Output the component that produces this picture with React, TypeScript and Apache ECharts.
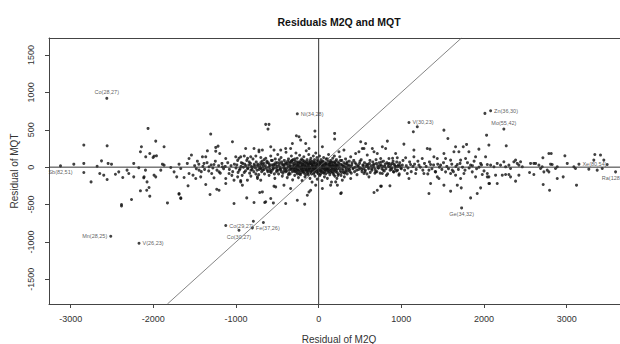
import React, { useEffect, useRef } from "react";
import * as echarts from "echarts";

const X_MIN = -3262;
const X_MAX = 3645;
const Y_MIN = -1830;
const Y_MAX = 1727;
const xTicks = [-3000, -2000, -1000, 0, 1000, 2000, 3000];
const yTicks = [-1500, -1000, -500, 0, 500, 1000, 1500];

const farLeft: number[][] = [
  [-2064,518],[-2841,295],[-2559,285],[-2156,205],[-2144,272],[-2962,40],[-2841,50],[-2680,13],[-2627,84],[-2547,50],[-2506,40],[-2237,50],[-2176,-9],[-2095,-40],[-2841,-71],[-2648,-84],[-2600,-107],[-2559,-165],[-2753,-197],[-2458,-94],[-2418,-63],[-2370,-138],[-2318,-40],[-2297,-84],[-2237,-130],[-2116,-143],[-2076,-197],[-2156,-317],[-2264,-432],[-2385,-500],[-2385,-520],[-2080,-308],[-1971,348],[-1870,272],[-2092,138],[-1991,147],[-2052,-272],[-2043,-388],[-1829,-478],[-1689,-352],[-1668,-419],[-1580,-250],[-2043,183],[-2003,130],[-1962,151],[-1890,40],[-1870,27],[-1789,-4],[-1749,-63],[-1717,-130],[-1689,40],[-1668,-18],[-1628,-138],[-2112,-130],[-1991,-107],[-1971,-130],[-1910,-40],[-1689,-362],[-1668,-411]
];

const leftBand: number[][] = [
  [-1589,50],[-1568,116],[-1539,161],[-1520,-107],[-1487,-152],[-1467,80],[-1447,-40],[-1406,138],[-1366,138],[-1346,218],[-1387,50],[-1306,442],[-1326,4],[-1294,-84],[-1266,36],[-1245,264],[-1217,281],[-1245,214],[-1197,183],[-1366,-232],[-1314,-366],[-1233,-295],[-1205,-308],[-1568,-84],[-1427,-130],[-1266,-143],[-1205,-63],[-1164,4],[-1124,116],[-1043,339],[-1003,138],[-943,138],[-883,250],[-822,138],[-782,250],[-722,228],[-1124,-152],[-1084,-84],[-1024,-174],[-943,-197],[-862,-174],[-923,-241],[-1024,-486],[-870,-411],[-782,-473],[-713,-339],[-653,-473],[-580,-419],[-548,-478],[-540,-254],[-1124,-218],[-943,-180],[-790,-723],[-669,-740],[-258,-442],[-169,-495],[-137,-375],[-117,-331],[-641,-464],[-399,-486],[-97,-308],[-36,-241],[-339,-285],[-420,-241],[-520,-264],[-701,-174],[-741,-130],[-681,-331],
  [-641,572],[-601,572],[-613,509],[-270,419],[-238,406],[-218,362],[-681,228],[-722,205],[-580,272],[-540,228],[-459,228],[-399,250],[-339,250],[-318,317],[-157,317],[-117,250],
  [-1500,20],[-1480,-20],[-1450,40],[-1420,-60],[-1400,10],[-1380,-30],[-1350,60],[-1330,-50],[-1300,30],[-1280,-10],[-1250,80],[-1230,-40],[-1210,20],[-1190,-80],[-1170,50],[-1150,-20],[-1130,10],[-1100,60],[-1080,-30],[-1060,20],[-1040,-60],[-1020,40],[-1000,-10],[-980,90],[-960,-40],[-940,10],[-920,50],[-900,-70],[-880,20],[-860,-20],[-840,70],[-820,-40],[-800,0],[-780,40],[-760,-90],[-740,20],[-720,-30],[-700,60],[-690,-60],[-670,10],[-660,100],[-1050,-110],[-980,-130],[-900,150],[-860,120],[-820,-120],[-760,150],[-740,-150],[-700,130]
];

const corePoints: number[][] = [
  [-640,120],[-620,-40],[-610,60],[-600,-110],[-590,20],[-580,150],[-575,-70],[-560,90],[-550,-20],[-540,40],[-530,-150],[-525,110],[-510,-60],[-500,10],[-495,170],[-485,-90],[-470,60],[-460,-30],[-455,130],[-440,-120],[-430,30],[-425,-10],[-415,90],[-400,-60],[-395,200],[-385,50],[-380,-140],[-370,0],[-365,110],[-355,-40],[-350,70],[-345,-90],[-340,20],[-330,150],[-325,-20],[-320,60],[-315,-170],[-310,100],[-300,-50],[-298,30],[-290,-110],[-285,80],[-280,-10],[-275,190],[-270,40],[-265,-70],[-260,120],[-255,-30],[-250,10],[-245,-140],[-240,70],[-235,-60],[-230,160],[-225,0],[-220,-100],[-215,50],[-210,-20],[-205,110],[-200,-180],[-198,30],[-195,-50],[-190,90],[-185,-10],[-180,140],[-175,-80],[-170,20],[-165,-130],[-160,60],[-155,-30],[-150,220],[-148,10],[-145,-60],[-140,100],[-135,-20],[-130,40],[-125,-100],[-120,170],[-118,-40],[-115,70],[-110,0],[-105,-150],[-100,50],[-98,-70],[-95,120],[-90,-10],[-85,30],[-80,-200],[-78,80],[-75,-50],[-70,10],[-65,150],[-60,-90],[-58,40],[-55,-20],[-50,100],[-45,-120],[-40,60],[-38,-30],[-35,190],[-30,0],[-25,-60],[-20,130],[-18,-160],[-15,30],[-10,-40],[-5,80],[0,-90],[5,20],[8,-20],[10,150],[15,-110],[20,50],[25,-50],[30,100],[35,-10],[40,-180],[45,70],[50,-70],[55,20],[60,130],[65,-30],[70,-130],[75,60],[80,0],[85,-90],[90,110],[95,-40],[100,30],[105,-150],[110,80],[115,-20],[120,170],[125,-60],[130,40],[135,-100],[140,10],[145,90],[150,-40],[155,-200],[160,60],[165,-10],[170,120],[175,-80],[180,20],[185,-30],[190,150],[195,-120],[200,50],[205,-60],[210,0],[215,100],[220,-150],[225,30],[230,-20],[235,70],[240,-90],[250,10],[255,140],[260,-50],[265,40],[270,-110],[280,90],[285,-20],[290,20],[300,-70],[305,60],[310,-130],[320,0],[325,110],[330,-40],[340,50],[345,-90],[350,20],[360,-20],[370,80],[380,-60],
  [-420,-50],[-410,40],[-390,-20],[-375,80],[-360,-80],[-348,10],[-335,-30],[-322,90],[-305,-10],[-295,50],[-283,-60],[-272,0],[-262,70],[-252,-40],[-242,30],[-232,-90],[-222,60],[-212,10],[-202,-30],[-192,40],[-182,-60],[-172,80],[-162,0],[-152,-40],[-142,50],[-132,-80],[-122,20],[-112,-10],[-102,90],[-92,-50],[-82,40],[-72,-30],[-62,60],[-52,-70],[-42,10],[-32,-10],[-22,50],[-12,-80],[-2,40],[12,-40],[22,70],[32,-60],[42,10],[52,40],[62,-80],[72,30],[82,-40],[92,50],[102,-10],[112,-70],[122,40],[132,-30],[142,70],[152,10],[162,-60],[172,30],[182,-100],[192,60],[202,-20],[212,30],[222,-70],[-445,70],[-465,-20],[-480,30],[-505,-40],[-520,60],[-545,-10],[-565,30],[-585,-60],[-605,0],[-625,80],[-660,-30],[-680,40],[-700,-10],
  [245,205],[306,228],[447,183],[487,205],[528,250],[387,138],[193,451],[193,375],[45,272],[-45,482],[-45,406],[326,-63],[387,-152],[286,-174],[206,-197],[145,-241],[266,-352]
];

const bandExtra: number[][] = [
  [-990,30],[-975,-70],[-965,120],[-950,-20],[-935,60],[-925,-110],[-910,0],[-895,40],[-885,-50],[-870,90],[-855,-10],[-845,30],[-835,-80],[-825,50],[-815,10],[-805,-30],[-795,110],[-785,-60],[-775,20],[-765,-10],[-755,70],[-745,-40],[-735,40],[-725,-100],[-715,0],[-705,30],[-695,-20],[-685,80],[-675,-40],[-665,50],[-655,-90],[-645,20],[-635,-10],[-628,60],[-615,-60],[-598,40],[-588,-30],[-572,90],[-562,-40],[-548,20],[-536,-90],[-522,30],[-512,-10],[-498,60],[-488,-40],[-476,100],[-466,0],[-452,-60],[-444,40],[-432,-80],[-418,20],[-408,-20],[-398,60],[-388,-50],[-376,30],[-366,-100],[-352,50],[-342,-10],[-332,80],[-318,-60],[-308,20],[-296,-30],[-288,110],[-276,-40],[-266,20],[-256,-90],[-246,50],[-236,0],[-226,-40],[-216,90],[-206,-70],[-196,10],[-186,60],[-176,-30],[-166,30],[-156,-100],[-146,70],[-136,0],[-126,-50],[-116,40],[-106,-20],[-96,60],[-86,-90],[-76,20],[-66,-10],[-56,70],[-46,-50],[-36,30],[-26,-20],[-16,90],[-6,-60],[4,10],[14,60],[24,-90],[34,30],[44,-30],[54,80],[64,-10],[74,-60],[84,40],[94,-20],[104,110],[114,-40],[124,10],[134,60],[144,-70],[154,30],[164,-20],[174,70],[184,-50],[194,10],[204,80],[214,-40],[224,20],[234,-110],[244,50],[254,-20],[264,90],[274,-70],[284,30],[294,-40],[304,10],[314,-80],[324,40],[334,-10],[344,70],[354,-50],[364,30],[374,-30],[384,10],[394,-80],[404,60],[414,-20],[424,90],[434,-60],[444,0],[454,40],[464,-100],[474,20],[484,-30],[494,50],[504,-10],[514,100],[524,-60],[534,30],[544,-20],[554,60],[564,-40],[574,10],[584,-90],[594,30],[604,-20],[614,50],[624,-70],[634,20],[644,-40],[654,70],[664,0],[674,40],[684,-30],[694,100],[704,-60],[714,20],[724,-10],[734,60],[744,-80],[754,30],[764,-20],[774,10],[784,80],[794,-50],[804,40],[814,-20],[824,60],[834,-90],[844,10],[854,50],[864,-40],[874,30],[884,-10],[894,120],[904,-60],[914,40],[924,-20],[934,10],[944,70],[954,-40],[964,30],[974,-90],[984,20],[994,-10]
];

const rightBand: number[][] = [
  [568,317],[508,339],[548,250],[588,161],[649,250],[669,205],[709,183],[750,116],[770,272],[810,250],[831,348],[850,116],[891,50],[931,183],[951,125],[1012,27],[1031,308],[1052,125],[1112,36],[1145,473],[1152,228],[1152,138],[1193,540],[1213,27],[1253,116],[1314,250],[1346,241],[1354,36],[1394,138],[1435,116],[1475,27],[1515,495],[1515,183],[1535,116],[1563,384],[1596,94],[1636,205],[1656,272],[1677,36],[1696,205],[1717,94],[1749,272],[1777,116],[1789,304],[1817,205],[1838,27],[1898,138],[1938,241],[1959,50],[2019,138],
  [548,-84],[608,-130],[689,-63],[770,-84],[910,-63],[971,-107],[1072,-84],[1092,-152],[1173,-84],[1273,-84],[1334,-40],[1415,-63],[1435,-130],[1455,-152],[1535,-63],[1596,-84],[1616,-40],[1656,-107],[1717,-152],[1757,-84],[1858,-63],[1898,-130],[1979,-98],[2040,-130],
  [669,-339],[709,-308],[750,-254],[862,-250],[1334,-352],[1354,-218],[1515,-241],[1596,-321],[1677,-241],[1725,-277],[1838,-411],[1918,-352],[1959,-277],[2059,-218],[274,-344],[226,-241],[45,-285],[758,-254],
  [400,30],[420,-10],[440,60],[460,-40],[480,10],[500,80],[520,-30],[540,20],[560,-60],[580,40],[600,0],[620,90],[640,-20],[660,30],[680,-80],[700,50],[720,-10],[740,20],[760,70],[780,-40],[800,10],[820,-110],[840,40],[860,0],[880,-30],[900,80],[920,20],[940,-50],[960,10],[980,60],[1000,-20],[1020,90],[1040,-40],[1060,20],[1080,-10],[1100,70],[1120,-60],[1140,10],[1160,40],[1180,-30],[1200,80],[1230,0],[1260,-40],[1280,50],[1300,10],[1320,-90],[1340,70],[1370,-20],[1390,30],[1410,-60],[1440,40],[1460,0],[1490,-30],[1510,60],[1550,10],[1570,-20],[1610,40],[1630,-60],[1660,10],[1690,-30],[1710,50],[1740,0],[1770,-40],[1800,60],[1820,-10],[1860,20],[1880,80],[1910,-20],[1940,0],[1970,30],[2000,-50]
];

const farRight: number[][] = [
  [2031,428],[2059,295],[2269,285],[2785,183],[2813,183],[2712,125],[2978,151],[3340,170],[3409,161],[3328,94],[3449,94],[3490,36],[2040,36],[2080,27],[2120,4],[2160,50],[2200,27],[2240,71],[2261,4],[2301,27],[2321,-18],[2361,71],[2382,94],[2402,50],[2422,27],[2442,71],[2463,4],[2563,50],[2603,50],[2624,50],[2664,27],[2684,-18],[2704,4],[2765,-40],[2805,40],[2825,36],[2865,-18],[2886,4],[3007,50],[3087,4],[3107,-18],[3268,-27],[3369,-40],[3430,-18],[2040,-84],[2059,-130],[2067,-218],[2160,-218],[2140,-107],[2221,-107],[2261,-98],[2301,-98],[2321,-130],[2382,-187],[2422,-107],[2551,-71],[2603,-98],[2724,-63],[2785,-63],[2716,-232],[2793,-308],[2886,-152],[2958,-130],[3119,-241],[2011,719]
];

const labelNames = ["Co(28,27)", "Sb(82,51)", "Mn(28,25)", "V(26,23)", "Co(29,27)", "Fe(37,26)", "Co(30,27)", "Ni(34,28)", "V(30,23)", "Zn(36,30)", "Mo(55,42)", "Ge(34,32)", "Xe(80,54)", "Ra(128,88)"];
const labelX = [-2563, -3123, -2515, -2173, -1124, -802, -964, -258, 1092, 2080, 2240, 1729, 3148, 3591];
const labelY = [920, 17, -924, -1017, -781, -812, -843, 713, 598, 754, 509, -545, 40, -63];
const labelPos = ["top", "bottom", "left", "right", "right", "right", "bottom", "right", "right", "right", "top", "bottom", "right", "bottom"];

const diagonal = [[Y_MIN, Y_MIN], [Y_MAX, Y_MAX]];
const zeroH = [[X_MIN, 0], [X_MAX, 0]];
const zeroV = [[0, Y_MIN], [0, Y_MAX]];

const FONT = "Liberation Sans, Arial, sans-serif";

export default function App() {
  const ref = useRef<HTMLDivElement>(null);
  useEffect(() => {
    if (!ref.current) return;
    const chart = echarts.init(ref.current, undefined, { renderer: "svg" });
    const allPoints = [...farLeft, ...leftBand, ...corePoints, ...bandExtra, ...rightBand, ...farRight];
    const labeled = labelNames.map((n, i) => ({
      value: [labelX[i], labelY[i]],
      label: {
        show: true,
        formatter: n,
        position: labelPos[i],
        distance: 2,
        fontSize: 5.5,
        color: "#333",
        fontFamily: FONT,
      },
    }));
    const lineBase = {
      type: "line",
      symbol: "none",
      silent: true,
      clip: true,
      animation: false,
    };
    const fmt = (v: number) => String(v);
    chart.setOption({
      animation: false,
      backgroundColor: "#fff",
      grid: { left: 49, top: 38, right: 0, height: 266, show: false },
      xAxis: [
        {
          type: "value",
          min: X_MIN,
          max: X_MAX,
          position: "bottom",
          splitLine: { show: false },
          axisLine: { show: true, onZero: false, lineStyle: { color: "#444", width: 1 } },
          axisTick: { show: true, customValues: xTicks, length: 4, lineStyle: { color: "#444" } },
          axisLabel: { customValues: xTicks, formatter: fmt, fontSize: 9, color: "#333", margin: 10, fontFamily: FONT },
        },
        {
          type: "value",
          min: X_MIN,
          max: X_MAX,
          position: "top",
          splitLine: { show: false },
          axisLine: { show: true, onZero: false, lineStyle: { color: "#444", width: 1 } },
          axisTick: { show: false },
          axisLabel: { show: false },
        },
      ],
      yAxis: {
        type: "value",
        min: Y_MIN,
        max: Y_MAX,
        splitLine: { show: false },
        axisLine: { show: true, onZero: false, lineStyle: { color: "#444", width: 1 } },
        axisTick: { show: true, customValues: yTicks, length: 4, lineStyle: { color: "#444" } },
        axisLabel: { customValues: yTicks, formatter: fmt, fontSize: 9, color: "#333", margin: 14, rotate: 90, fontFamily: FONT },
      },
      graphic: [
        {
          type: "text",
          x: 339,
          y: 22,
          style: {
            text: "Residuals M2Q and MQT",
            font: "bold 10.5px " + FONT,
            fill: "#111",
            textAlign: "center",
            textVerticalAlign: "middle",
          },
        },
        {
          type: "text",
          x: 339,
          y: 339,
          style: {
            text: "Residual of M2Q",
            font: "10px " + FONT,
            fill: "#333",
            textAlign: "center",
            textVerticalAlign: "middle",
          },
        },
        {
          type: "text",
          x: 14,
          y: 171,
          rotation: Math.PI / 2,
          style: {
            text: "Residual of MQT",
            font: "10px " + FONT,
            fill: "#333",
            textAlign: "center",
            textVerticalAlign: "middle",
          },
        },
      ],
      series: [
        { ...lineBase, data: zeroH, lineStyle: { color: "#333", width: 1 } },
        { ...lineBase, data: zeroV, lineStyle: { color: "#333", width: 1 } },
        { ...lineBase, data: diagonal, lineStyle: { color: "#666", width: 0.8 } },
        {
          type: "scatter",
          data: allPoints,
          symbolSize: 3,
          itemStyle: { color: "#111" },
          silent: true,
        },
        {
          type: "scatter",
          data: labeled,
          symbolSize: 3,
          itemStyle: { color: "#111" },
          silent: true,
        },
      ],
    });
    return () => chart.dispose();
  }, []);
  return <div ref={ref} style={{ width: 620, height: 344, position: "absolute", left: 0, top: 0 }} />;
}
